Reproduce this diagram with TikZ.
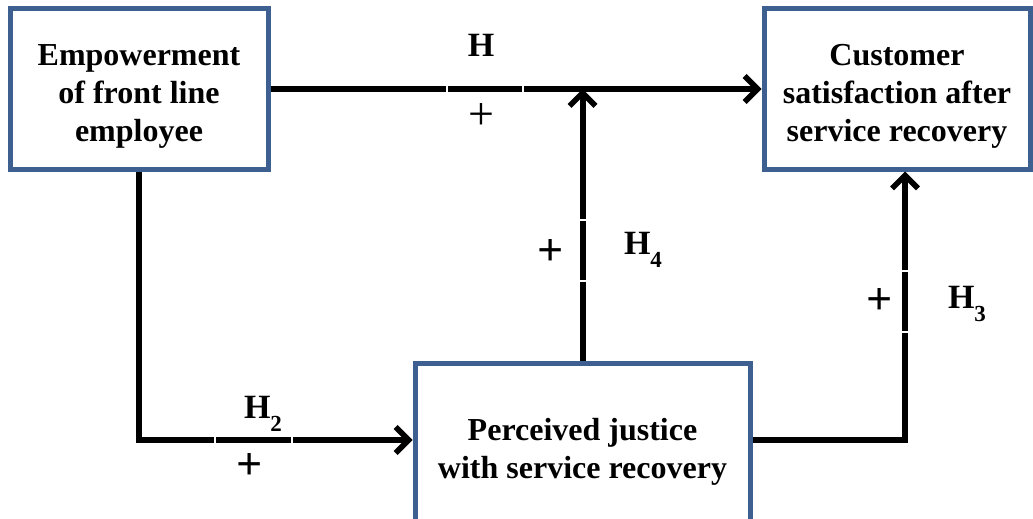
\documentclass[tikz,border=0pt]{standalone}
\usepackage{fontspec}
\setmainfont{Liberation Serif}
\usetikzlibrary{arrows.meta}
\definecolor{boxblue}{HTML}{3D6090}
\newcommand{\hsub}[1]{H\raisebox{-13pt}{\fontsize{23}{23}\selectfont #1}}
\newcommand{\topstrut}{\rule{0pt}{35pt}}
\begin{document}
\begin{tikzpicture}[x=1pt, y=-1pt, line width=6pt,
  box/.style={draw=boxblue, fill=white, line width=5pt, align=center,
    font=\fontsize{32}{38}\selectfont\bfseries, inner sep=0pt},
  arr/.style={draw=black, -{Straight Barb[length=13pt,width=26pt,line width=5.5pt]}},
  lab/.style={font=\fontsize{34}{40}\selectfont\bfseries, inner sep=0pt},
  plus/.style={font=\fontsize{46}{46}\selectfont\bfseries, inner sep=0pt},
  gap/.style={draw=white, line width=1.2pt}]
\useasboundingbox (0,0) rectangle (1033,519);
\begin{scope}
\node[box, minimum width=258pt, minimum height=160pt] (emp) at (139,89) {\topstrut Empowerment\\of front line\\employee};
\node[box, minimum width=266pt, minimum height=160pt] (cust) at (897,89) {\topstrut Customer\\satisfaction after\\service recovery};
\node[box, minimum width=335pt, minimum height=164pt] (perc) at (582.5,445) {\topstrut Perceived justice\\with service recovery};
%\node[box] () at (,) {};
\end{scope}
\begin{scope}
\draw[arr] (emp.east) -- (cust.west);
\draw[arr] (perc.north) -- (perc.north |- emp.east);
\draw[arr] ([yshift=5pt]perc.east) -| ([xshift=8pt]cust.south);
\draw[arr] (emp.south) |- ([yshift=5pt]perc.west);
\draw[gap] (447,80) -- (447,98);
\draw[gap] (523,80) -- (523,98);
\draw[gap] (576,220) -- (594,220);
\draw[gap] (576,281) -- (594,281);
\draw[gap] (896,271) -- (914,271);
\draw[gap] (896,332) -- (914,332);
\draw[gap] (215,431) -- (215,449);
\draw[gap] (292,431) -- (292,449);
\end{scope}
\begin{scope}
\node[lab] (h1) at (481,45) {H};
\node[plus, font=\fontsize{46}{46}\selectfont] (p1) at (481,117) {+};
\node[plus] (p4) at (551,253) {+};
\node[lab] (h4) at (643,250) {\hsub{4}};
\node[plus] (p3) at (880,302) {+};
\node[lab] (h3) at (967,304) {\hsub{3}};
\node[lab] (h2) at (263,414) {\hsub{2}};
\node[plus] (p2) at (250,467) {+};
\end{scope}
\end{tikzpicture}
\end{document}
